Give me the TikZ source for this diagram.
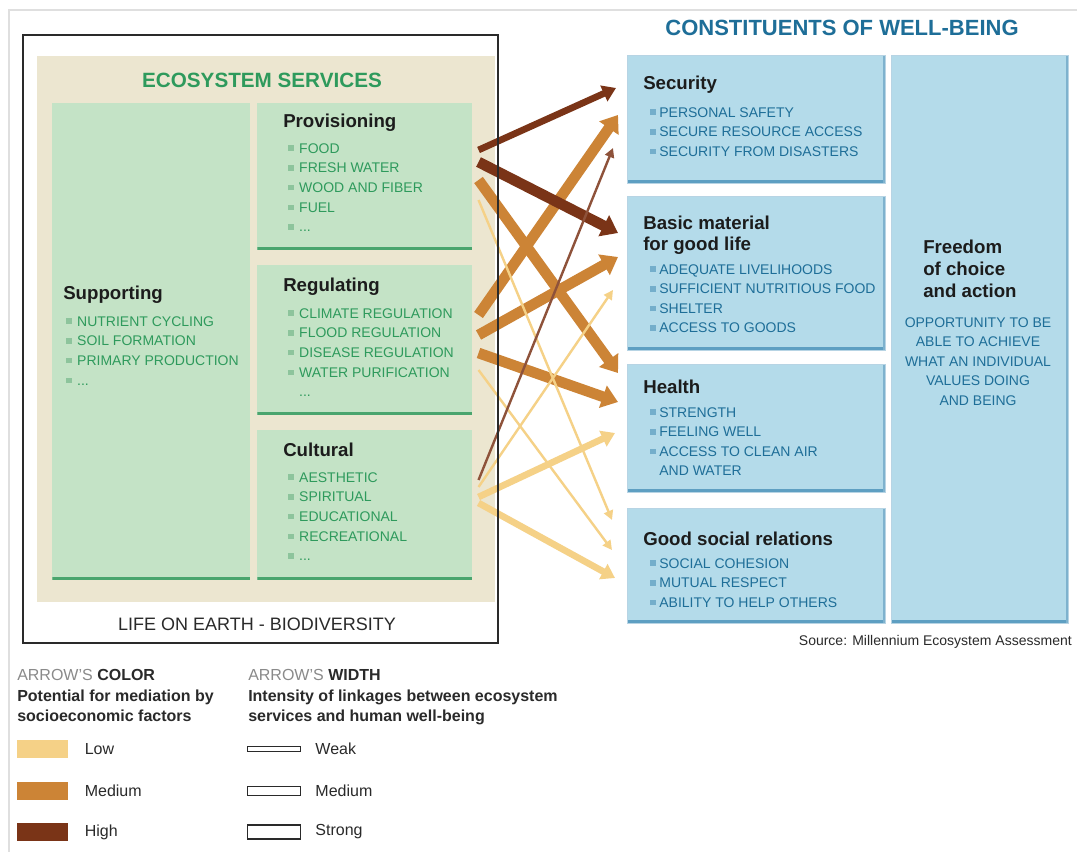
\documentclass[tikz,border=0pt]{standalone}
\usepackage{fontspec}
\setmainfont{Liberation Sans}
\usetikzlibrary{arrows.meta,calc,positioning}

\definecolor{beige}{HTML}{ECE6D0}
\definecolor{boxgreen}{HTML}{C4E3C6}
\definecolor{edgegreen}{HTML}{4AA56E}
\definecolor{textgreen}{HTML}{2E9A5C}
\definecolor{bulgreen}{HTML}{8DC49C}
\definecolor{boxblue}{HTML}{B4DBEA}
\definecolor{edgeblue}{HTML}{5E9FC2}
\definecolor{textblue}{HTML}{1E6E98}
\definecolor{bulblue}{HTML}{74AECB}
\definecolor{lowcol}{HTML}{F5D187}
\definecolor{medcol}{HTML}{CC8436}
\definecolor{highcol}{HTML}{7A3417}
\definecolor{headtext}{HTML}{1C1C1C}
\definecolor{legendgray}{HTML}{8A8A8A}
\definecolor{darktext}{HTML}{2A2A2A}

\newcommand\gsq{{\color{bulgreen}\rule[1.6pt]{4.2pt}{4.2pt}}\hspace{4pt}}
\newcommand\bsq{{\color{bulblue}\rule[1.6pt]{4.2pt}{4.2pt}}\hspace{2.6pt}}

\tikzset{
    gbox/.style={fill=boxgreen, anchor=north west, inner sep=0pt,
        path picture={\fill[edgegreen] ([yshift=2.4pt]path picture bounding box.south west) rectangle (path picture bounding box.south east);}},
    bbox/.style={fill=boxblue, draw=edgeblue!45, line width=0.6pt, anchor=north west, inner sep=0pt,
        path picture={\fill[edgeblue] ([yshift=2.4pt]path picture bounding box.south west) rectangle (path picture bounding box.south east);
                      \fill[edgeblue!80] ([xshift=-1.6pt]path picture bounding box.north east) rectangle (path picture bounding box.south east);}},
    head/.style={anchor=west, inner sep=0pt, text=headtext, align=left, font=\fontsize{14}{16}\selectfont\bfseries},
    glist/.style={anchor=north west, inner sep=0pt, text=textgreen, align=left, font=\fontsize{10.5}{14.8}\selectfont},
    blist/.style={anchor=north west, inner sep=0pt, text=textblue, align=left, font=\fontsize{10.5}{14.7}\selectfont},
    weakarr/.style={line width=1.8pt, -{Triangle[width=7pt,length=7pt]}},
    mediumarr/.style={line width=5pt, -{Triangle[width=12.5pt,length=10pt]}},
    strongarr/.style={line width=8pt, -{Triangle[width=17pt,length=12pt]}},
    legtext/.style={inner sep=0pt, text=darktext, font=\fontsize{12}{15}\selectfont},
    swatch/.style={anchor=north west, inner sep=0pt, minimum width=38.25pt, minimum height=13.5pt},
    bar/.style={anchor=west, draw=darktext, line width=0.9pt, fill=white, inner sep=0pt, minimum width=39.75pt}
}

\begin{document}
\begin{tikzpicture}[x=0.75pt,y=-0.75pt]
    \useasboundingbox (0,0) rectangle (1077,852);
    \fill[white] (0,0) rectangle (1077,852);
    \draw[gray!25, line width=1pt] (1077,10) -- (9,10) -- (9,852);

    \fill[beige] (37,56) rectangle (495,602);

    \node[font=\fontsize{15.5}{18}\selectfont\bfseries, text=textgreen] (EST) at (262,80) {ECOSYSTEM SERVICES};

    \node[gbox, minimum width=148.5pt, minimum height=357.75pt] (SU) at (52,103) {};
    \node[gbox, minimum width=161.25pt, minimum height=110.25pt] (PR) at (257,103) {};
    \node[gbox, minimum width=161.25pt, minimum height=112.5pt] (RE) at (257,265) {};
    \node[gbox, minimum width=161.25pt, minimum height=112.5pt] (CU) at (257,430) {};

    \node[head] (SUh) at (63,295) {Supporting};
    \node[glist] (SUl) at (66,316) {\gsq NUTRIENT CYCLING\\\gsq SOIL FORMATION\\\gsq PRIMARY PRODUCTION\\\gsq ...};
    \node[head] (PRh) at (283,123) {Provisioning};
    \node[glist] (PRl) at (288,143) {\gsq FOOD\\\gsq FRESH WATER\\\gsq WOOD AND FIBER\\\gsq FUEL\\\gsq ...};
    \node[head] (REh) at (283,287) {Regulating};
    \node[glist] (REl) at (288,308) {\gsq CLIMATE REGULATION\\\gsq FLOOD REGULATION\\\gsq DISEASE REGULATION\\\gsq WATER PURIFICATION\\\hphantom{\gsq}...};
    \node[head] (CUh) at (283,450) {Cultural};
    \node[glist] (CUl) at (288,472) {\gsq AESTHETIC\\\gsq SPIRITUAL\\\gsq EDUCATIONAL\\\gsq RECREATIONAL\\\gsq ...};

    \node[font=\fontsize{13.5}{16}\selectfont, text=darktext] (LOE) at (257,624) {LIFE ON EARTH - BIODIVERSITY};

    \node[font=\fontsize{16.5}{19}\selectfont\bfseries, text=textblue] (CWB) at (842,28) {CONSTITUENTS OF WELL-BEING};

    \node[bbox, minimum width=193.5pt, minimum height=96pt] (SE) at (627,55) {};
    \node[bbox, minimum width=193.5pt, minimum height=115.5pt] (BM) at (627,196) {};
    \node[bbox, minimum width=193.5pt, minimum height=96pt] (HE) at (627,364) {};
    \node[bbox, minimum width=193.5pt, minimum height=86.25pt] (GS) at (627,508) {};
    \node[bbox, minimum width=132.75pt, minimum height=426pt] (FR) at (891,55) {};

    \node[head] (SEh) at (643,85) {Security};
    \node[blist] (SEl) at (650,107) {\bsq PERSONAL SAFETY\\\bsq SECURE RESOURCE ACCESS\\\bsq SECURITY FROM DISASTERS};
    \node[head] (BMh) at (643,235) {Basic material\\for good life};
    \node[blist] (BMl) at (650,264) {\bsq ADEQUATE LIVELIHOODS\\\bsq SUFFICIENT NUTRITIOUS FOOD\\\bsq SHELTER\\\bsq ACCESS TO GOODS};
    \node[head] (HEh) at (643,387) {Health};
    \node[blist] (HEl) at (650,407) {\bsq STRENGTH\\\bsq FEELING WELL\\\bsq ACCESS TO CLEAN AIR\\\hphantom{\bsq}AND WATER};
    \node[head] (GSh) at (643,539) {Good social relations};
    \node[blist] (GSl) at (650,558) {\bsq SOCIAL COHESION\\\bsq MUTUAL RESPECT\\\bsq ABILITY TO HELP OTHERS};
    \node[head, font=\fontsize{14}{16.5}\selectfont\bfseries] (FRh) at (923,269) {Freedom\\of choice\\and action};
    \node[blist, anchor=north, align=center] (FRl) at (978,317) {OPPORTUNITY TO BE\\ABLE TO ACHIEVE\\WHAT AN INDIVIDUAL\\VALUES DOING\\AND BEING};

    \node[anchor=east, inner sep=0pt, text=darktext, font=\fontsize{10.5}{12}\selectfont] (SRC) at (1072,642) {Source: Millennium Ecosystem Assessment};

    \draw[strongarr, medcol] ($(PR.north east)+(6,77)$) -- ($(HE.north west)+(-9,9)$);
    \draw[strongarr, medcol] ($(RE.north east)+(6,50)$) -- ($(SE.north west)+(-9,60)$);
    \draw[strongarr, medcol] ($(RE.north east)+(6,70)$) -- ($(BM.north west)+(-9,61)$);
    \draw[strongarr, medcol] ($(RE.north east)+(6,88)$) -- ($(HE.north west)+(-9,38)$);
    \draw[mediumarr, highcol] ($(PR.north east)+(6,47)$) -- ($(SE.north west)+(-11,33)$);
    \draw[strongarr, highcol] ($(PR.north east)+(6,59)$) -- ($(BM.north west)+(-9,37)$);
    \draw[mediumarr, lowcol] ($(CU.north east)+(6,67)$) -- ($(HE.north west)+(-12,69)$);
    \draw[mediumarr, lowcol] ($(CU.north east)+(6,73)$) -- ($(GS.north west)+(-12,70)$);
    \draw[weakarr, lowcol] ($(PR.north east)+(6,97)$) -- ($(GS.north west)+(-15,12)$);
    \draw[weakarr, lowcol] ($(RE.north east)+(6,105)$) -- ($(GS.north west)+(-15,42)$);
    \draw[weakarr, lowcol] ($(CU.north east)+(6,57)$) -- ($(BM.north west)+(-14,94)$);
    \draw[weakarr, highcol!85] ($(CU.north east)+(6,50)$) -- ($(SE.north west)+(-14,93)$);

    \draw[darktext, line width=1.5pt] (23,35) rectangle (498,643);

    \node[legtext, anchor=west] (LC) at (17,675) {{\color{legendgray}ARROW'S} \textbf{COLOR}};
    \node[legtext, anchor=north west, align=left, font=\fontsize{12}{15}\selectfont\bfseries] (LCd) at (17,690) {Potential for mediation by\\socioeconomic factors};
    \node[legtext, anchor=west] (LW) at (248,675) {{\color{legendgray}ARROW'S} \textbf{WIDTH}};
    \node[legtext, anchor=north west, align=left, font=\fontsize{12}{15}\selectfont\bfseries] (LWd) at (248,690) {Intensity of linkages between ecosystem\\services and human well-being};

    \node[swatch, fill=lowcol] (SWL) at (17,740) {};
    \node[swatch, fill=medcol] (SWM) at (17,782) {};
    \node[swatch, fill=highcol] (SWH) at (17,823) {};
    \node[legtext, right=12pt of SWL] (SWLt) {Low};
    \node[legtext, right=12pt of SWM] (SWMt) {Medium};
    \node[legtext, right=12pt of SWH] (SWHt) {High};

    \node[bar, minimum height=3.75pt] (BW) at (247,749) {};
    \node[bar, minimum height=6.75pt] (BMd) at (247,791) {};
    \node[bar, minimum height=10.5pt] (BS) at (247,832) {};
    \node[legtext, right=10.5pt of BW] (BWt) {Weak};
    \node[legtext, right=10.5pt of BMd] (BMdt) {Medium};
    \node[legtext, right=10.5pt of BS] (BSt) {Strong};
\end{tikzpicture}
\end{document}
